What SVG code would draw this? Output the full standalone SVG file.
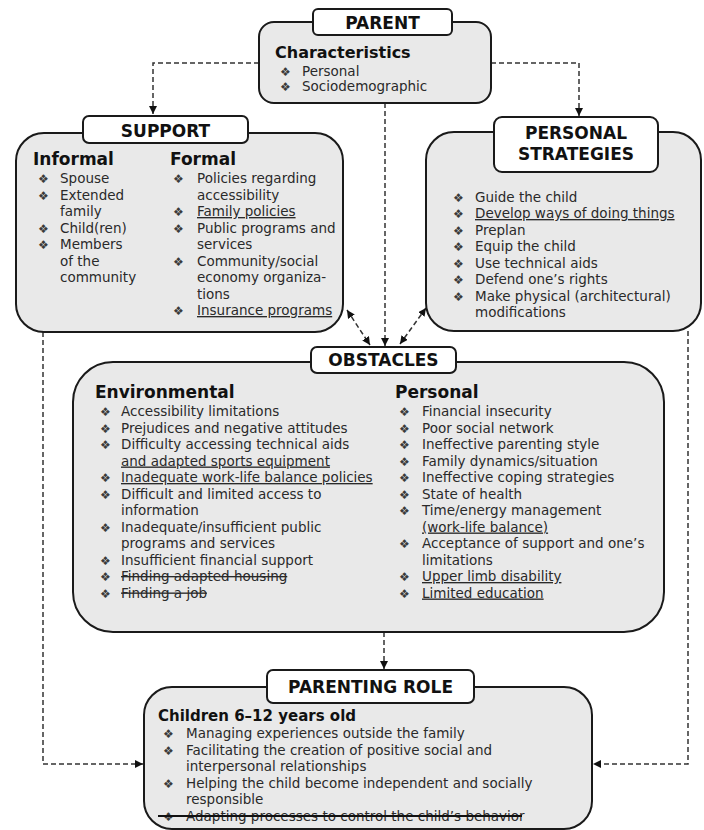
<svg xmlns="http://www.w3.org/2000/svg" width="704" height="830" viewBox="0 0 704 830">
<style>
.box{fill:#e9e9e9;stroke:#1a1a1a;stroke-width:2}
.lbl{fill:#fff;stroke:#1a1a1a;stroke-width:2}
text{font-family:"DejaVu Sans",Verdana,sans-serif}
.t{font-size:13.5px;fill:#2a2a2a}
.h{font-size:17px;font-weight:bold;fill:#111}
.lt{font-size:17px;font-weight:bold;fill:#111;text-anchor:middle}
.b{font-size:12px;fill:#3a3a3a}
.u{text-decoration:underline}
.s{text-decoration:line-through}
.c{fill:none;stroke:#333;stroke-width:1.5;stroke-dasharray:5 3}
</style>
<defs>
<marker id="ah" markerUnits="userSpaceOnUse" markerWidth="8" markerHeight="8" refX="8" refY="4" orient="auto-start-reverse">
<path d="M0,0 L8,4 L0,8 z" fill="#111"/>
</marker>
</defs>

<g id="connectors">
<path class="c" d="M259,63 H153 V114" marker-end="url(#ah)"/>
<path class="c" d="M491,63 H579 V116" marker-end="url(#ah)"/>
<path class="c" d="M385,103 V346" marker-end="url(#ah)"/>
<path class="c" d="M347,310 L370,345" marker-start="url(#ah)" marker-end="url(#ah)"/>
<path class="c" d="M426,308 L400,344" marker-start="url(#ah)" marker-end="url(#ah)"/>
<path class="c" d="M384,632 V669" marker-end="url(#ah)"/>
<path class="c" d="M43,332 V764 H143" marker-end="url(#ah)"/>
<path class="c" d="M688,331 V764 H593" marker-end="url(#ah)"/>
</g>

<g id="parent">
<rect class="box" x="259" y="22" width="232" height="81" rx="15"/>
<rect class="lbl" x="313" y="9" width="139" height="26" rx="5"/>
<text class="lt" x="382.5" y="29">PARENT</text>
<text class="h" x="275" y="58" style="font-size:16px">Characteristics</text>
<text class="b" x="280" y="76">❖</text><text class="t" x="302" y="76">Personal</text>
<text class="b" x="280" y="91">❖</text><text class="t" x="302" y="91">Sociodemographic</text>
</g>

<g id="support">
<rect class="box" x="16" y="133" width="327" height="199" rx="28"/>
<rect class="lbl" x="83" y="116" width="165" height="27" rx="6"/>
<text class="lt" x="165.5" y="137">SUPPORT</text>
<text class="h" x="33" y="165">Informal</text>
<text class="h" x="170" y="165">Formal</text>
<text class="b" x="38" y="183">❖</text><text class="t" x="60" y="183">Spouse</text>
<text class="b" x="38" y="199.5">❖</text><text class="t" x="60" y="199.5">Extended</text>
<text class="t" x="60" y="216">family</text>
<text class="b" x="38" y="232.5">❖</text><text class="t" x="60" y="232.5">Child(ren)</text>
<text class="b" x="38" y="249">❖</text><text class="t" x="60" y="249">Members</text>
<text class="t" x="60" y="265.5">of the</text>
<text class="t" x="60" y="282">community</text>
<text class="b" x="173" y="183">❖</text><text class="t" x="197" y="183">Policies regarding</text>
<text class="t" x="197" y="199.5">accessibility</text>
<text class="b" x="173" y="216">❖</text><text class="t u" x="197" y="216">Family policies</text>
<text class="b" x="173" y="232.5">❖</text><text class="t" x="197" y="232.5">Public programs and</text>
<text class="t" x="197" y="249">services</text>
<text class="b" x="173" y="265.5">❖</text><text class="t" x="197" y="265.5">Community/social</text>
<text class="t" x="197" y="282">economy organiza-</text>
<text class="t" x="197" y="298.5">tions</text>
<text class="b" x="173" y="315">❖</text><text class="t u" x="197" y="315">Insurance programs</text>
</g>

<g id="personal-strategies">
<rect class="box" x="426" y="132" width="275" height="199" rx="28"/>
<rect class="lbl" x="494" y="117" width="164" height="55" rx="8"/>
<text class="lt" x="576" y="139">PERSONAL</text>
<text class="lt" x="576" y="160">STRATEGIES</text>
<text class="b" x="453" y="201.5">❖</text><text class="t" x="475" y="201.5">Guide the child</text>
<text class="b" x="453" y="218">❖</text><text class="t u" x="475" y="218">Develop ways of doing things</text>
<text class="b" x="453" y="234.5">❖</text><text class="t" x="475" y="234.5">Preplan</text>
<text class="b" x="453" y="251">❖</text><text class="t" x="475" y="251">Equip the child</text>
<text class="b" x="453" y="267.5">❖</text><text class="t" x="475" y="267.5">Use technical aids</text>
<text class="b" x="453" y="284">❖</text><text class="t" x="475" y="284">Defend one’s rights</text>
<text class="b" x="453" y="300.5">❖</text><text class="t" x="475" y="300.5">Make physical (architectural)</text>
<text class="t" x="475" y="317">modifications</text>
</g>

<g id="obstacles">
<rect class="box" x="73" y="362" width="591" height="270" rx="40"/>
<rect class="lbl" x="311" y="347" width="145" height="26" rx="6"/>
<text class="lt" x="383.5" y="366">OBSTACLES</text>
<text class="h" x="95" y="398">Environmental</text>
<text class="h" x="395" y="398">Personal</text>
<text class="b" x="100" y="416">❖</text><text class="t" x="121" y="416">Accessibility limitations</text>
<text class="b" x="100" y="432.5">❖</text><text class="t" x="121" y="432.5">Prejudices and negative attitudes</text>
<text class="b" x="100" y="449">❖</text><text class="t" x="121" y="449">Difficulty accessing technical aids</text>
<text class="t u" x="121" y="465.5">and adapted sports equipment</text>
<text class="b" x="100" y="482">❖</text><text class="t u" x="121" y="482">Inadequate work-life balance policies</text>
<text class="b" x="100" y="498.5">❖</text><text class="t" x="121" y="498.5">Difficult and limited access to</text>
<text class="t" x="121" y="515">information</text>
<text class="b" x="100" y="531.5">❖</text><text class="t" x="121" y="531.5">Inadequate/insufficient public</text>
<text class="t" x="121" y="548">programs and services</text>
<text class="b" x="100" y="564.5">❖</text><text class="t" x="121" y="564.5">Insufficient financial support</text>
<text class="b" x="100" y="581">❖</text><text class="t s" x="121" y="581">Finding adapted housing</text>
<text class="b" x="100" y="597.5">❖</text><text class="t s" x="121" y="597.5">Finding a job</text>
<text class="b" x="399" y="416">❖</text><text class="t" x="422" y="416">Financial insecurity</text>
<text class="b" x="399" y="432.5">❖</text><text class="t" x="422" y="432.5">Poor social network</text>
<text class="b" x="399" y="449">❖</text><text class="t" x="422" y="449">Ineffective parenting style</text>
<text class="b" x="399" y="465.5">❖</text><text class="t" x="422" y="465.5">Family dynamics/situation</text>
<text class="b" x="399" y="482">❖</text><text class="t" x="422" y="482">Ineffective coping strategies</text>
<text class="b" x="399" y="498.5">❖</text><text class="t" x="422" y="498.5">State of health</text>
<text class="b" x="399" y="515">❖</text><text class="t" x="422" y="515">Time/energy management</text>
<text class="t u" x="422" y="531.5">(work-life balance)</text>
<text class="b" x="399" y="548">❖</text><text class="t" x="422" y="548">Acceptance of support and one’s</text>
<text class="t" x="422" y="564.5">limitations</text>
<text class="b" x="399" y="581">❖</text><text class="t u" x="422" y="581">Upper limb disability</text>
<text class="b" x="399" y="597.5">❖</text><text class="t u" x="422" y="597.5">Limited education</text>
</g>

<g id="parenting-role">
<rect class="box" x="144" y="687" width="448" height="142" rx="28"/>
<rect class="lbl" x="267" y="670" width="207" height="33" rx="6"/>
<text class="lt" x="370.5" y="693">PARENTING ROLE</text>
<text class="h" x="158" y="721" style="font-size:15px">Children 6–12 years old</text>
<text class="b" x="163" y="738">❖</text><text class="t" x="186" y="738">Managing experiences outside the family</text>
<text class="b" x="163" y="754.5">❖</text><text class="t" x="186" y="754.5">Facilitating the creation of positive social and</text>
<text class="t" x="186" y="771">interpersonal relationships</text>
<text class="b" x="163" y="787.5">❖</text><text class="t" x="186" y="787.5">Helping the child become independent and socially</text>
<text class="t" x="186" y="804">responsible</text>
<text class="b" x="163" y="820.5">❖</text><text class="t" x="186" y="820.5">Adapting processes to control the child’s behavior</text>
<line x1="158" y1="816" x2="522" y2="816" stroke="#111" stroke-width="2"/>
</g>
</svg>
